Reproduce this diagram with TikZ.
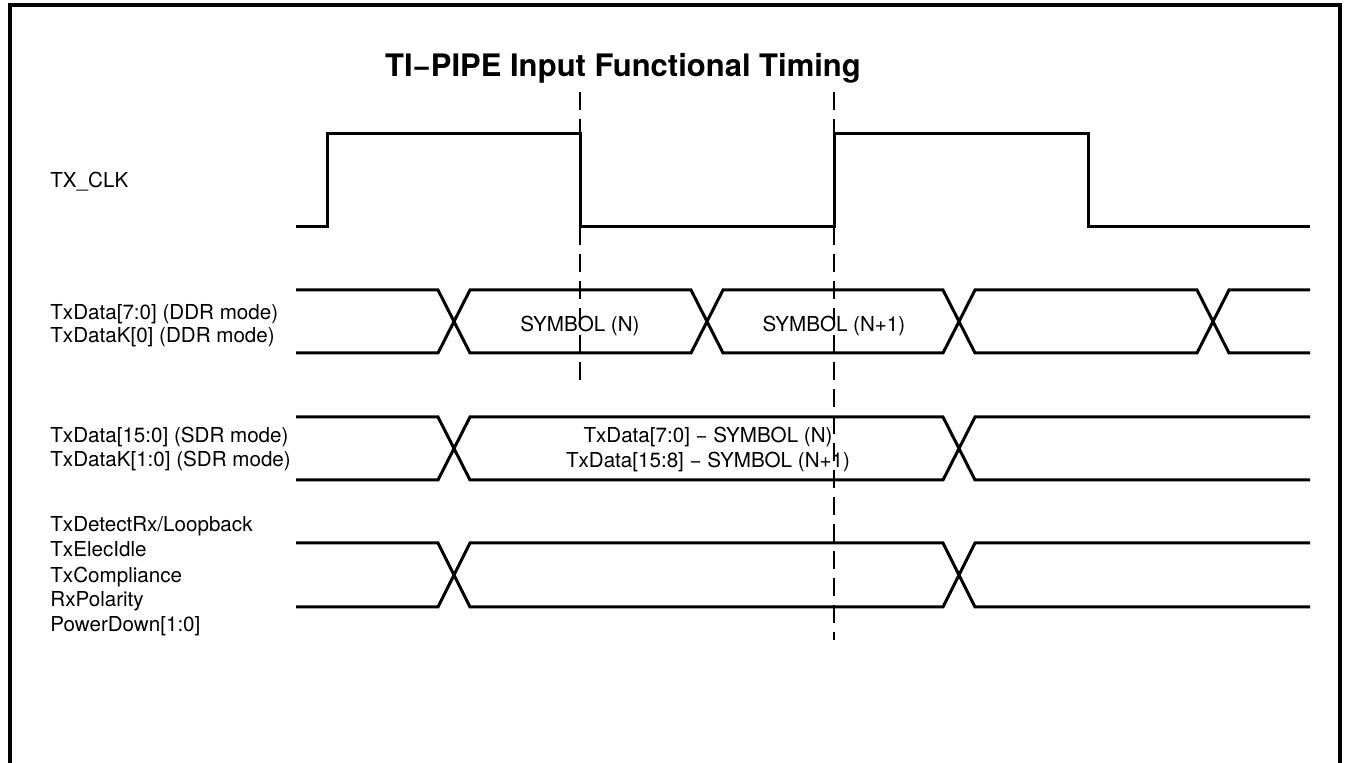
\documentclass[tikz,border=0pt]{standalone}
\usepackage{fontspec}
\setmainfont{TeX Gyre Heros}

\begin{document}
\begin{tikzpicture}[x=0.5pt,y=-0.5pt,
    wave/.style={line width=1.5pt},
    guide/.style={line width=1.2pt,dash pattern=on 9pt off 4.5pt},
    lbl/.style={anchor=base west,inner sep=0pt,font=\fontsize{10.3}{12}\selectfont},
    sym/.style={anchor=base,inner sep=0pt,font=\fontsize{10.3}{12}\selectfont}]
\useasboundingbox (0,0) rectangle (1348,763);
\clip (0,0) rectangle (1348,763);

% outer frame (open at the bottom)
\draw[line width=1.8pt] (10,780) -- (10,5) -- (1340,5) -- (1340,780);

\node[anchor=base,inner sep=0pt,font=\bfseries\fontsize{15.5}{18}\selectfont] (title)
    at (623,77) {TI−PIPE Input Functional Timing};

% TX_CLK
\node[lbl] (clk) at (50,188) {TX\_CLK};
\draw[wave] (296,227) -- (327,227) -- (327,134) -- (580,134) -- (580,227)
    -- (834,227) -- (834,134) -- (1088,134) -- (1088,227) -- (1310,227);

% DDR bus
\node[lbl] (ddra) at (50,320) {TxData[7:0] (DDR mode)};
\node[lbl] (ddrb) at (50,343) {TxDataK[0] (DDR mode)};
\draw[wave] (296,290) -- (438,290) -- (470,353) -- (691,353) -- (723,290)
    -- (943,290) -- (975,353) -- (1197,353) -- (1229,290) -- (1310,290);
\draw[wave] (296,353) -- (438,353) -- (470,290) -- (691,290) -- (723,353)
    -- (943,353) -- (975,290) -- (1197,290) -- (1229,353) -- (1310,353);
\node[sym] (symn) at (580,332) {SYMBOL (N)};
\node[sym] (symnn) at (834,332) {SYMBOL (N+1)};

% SDR bus
\node[lbl] (sdra) at (50,443) {TxData[15:0] (SDR mode)};
\node[lbl] (sdrb) at (50,467) {TxDataK[1:0] (SDR mode)};
\draw[wave] (296,417) -- (438,417) -- (470,480) -- (943,480) -- (975,417) -- (1310,417);
\draw[wave] (296,480) -- (438,480) -- (470,417) -- (943,417) -- (975,480) -- (1310,480);
\node[sym] (lowsym) at (708,443) {TxData[7:0] − SYMBOL (N)};
\node[sym] (highsym) at (708,468) {TxData[15:8] − SYMBOL (N+1)};

% control signals
\node[lbl] (det) at (50,532) {TxDetectRx/Loopback};
\node[lbl] (idle) at (50,557) {TxElecIdle};
\node[lbl] (comp) at (50,582) {TxCompliance};
\node[lbl] (pol) at (50,607) {RxPolarity};
\node[lbl] (pwr) at (50,632) {PowerDown[1:0]};
\draw[wave] (296,543) -- (438,543) -- (470,607) -- (943,607) -- (975,543) -- (1310,543);
\draw[wave] (296,607) -- (438,607) -- (470,543) -- (943,543) -- (975,607) -- (1310,607);

% sampling guides
\draw[guide] (580,92) -- (580,385);
\draw[guide] (834,92) -- (834,640);

\end{tikzpicture}
\end{document}
